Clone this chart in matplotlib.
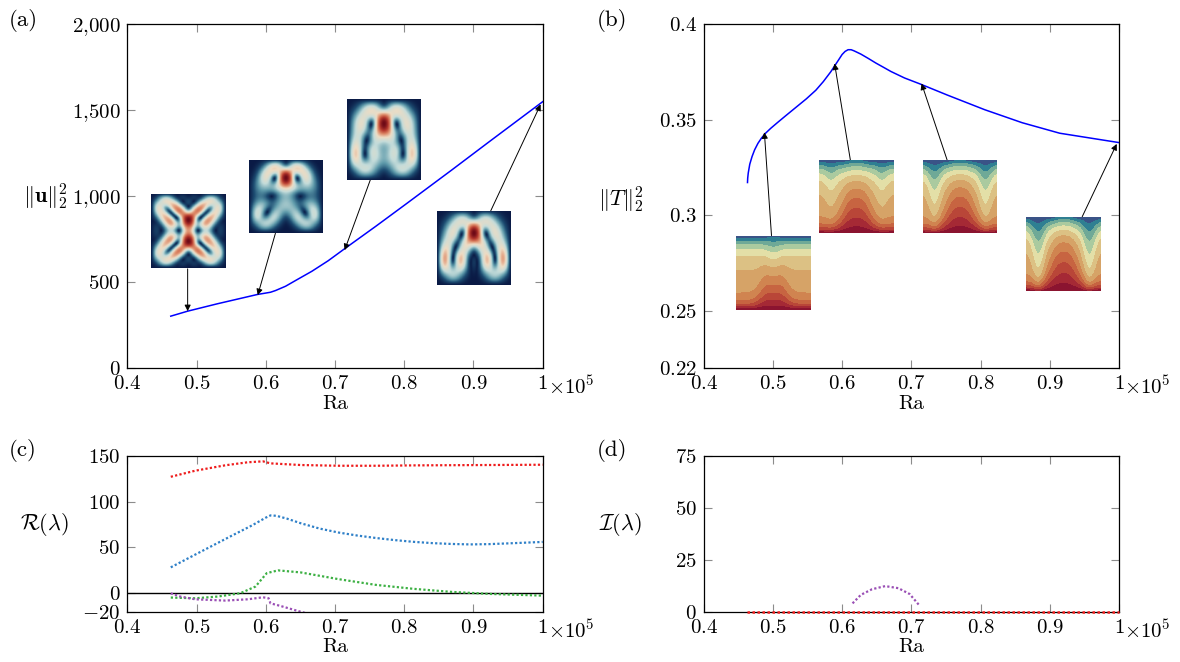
import numpy as np
import matplotlib
matplotlib.use('Agg')
import matplotlib.pyplot as plt
from matplotlib.colors import LinearSegmentedColormap

plt.rcParams['font.family'] = 'serif'
plt.rcParams['font.serif'] = ['cmr10']
plt.rcParams['mathtext.fontset'] = 'cm'
plt.rcParams['font.size'] = 15

# (a) velocity norm vs Ra
ra_u = np.array([46260, 48700, 53000, 58770, 60670, 61400, 62850, 64500, 66650, 69000, 71550,
                 75900, 80250, 86800, 92200, 100000])
u_norm = np.array([303, 332, 375, 429, 442, 452, 477, 515, 564, 625, 700,
                   826, 955, 1151, 1315, 1550])

# (b) temperature norm vs Ra
ra_t = np.array([46290, 46320, 46400, 46620, 46950, 47320, 47800, 48300, 48900, 49660, 50700,
                 51830, 53450, 54800, 56170, 57250, 58340, 59430, 59970, 60400, 60830, 61270,
                 61700, 62680, 63770, 64860, 66000, 67030, 69000, 71370, 75160, 80590, 86000,
                 91430, 100000])
t_norm = np.array([0.3172, 0.3195, 0.3222, 0.3268, 0.3308, 0.3343, 0.3377, 0.3404, 0.3430, 0.3456,
                   0.3488, 0.3522, 0.3570, 0.3610, 0.3655, 0.3700, 0.3752, 0.3812, 0.3842, 0.3858,
                   0.3867, 0.3867, 0.3861, 0.3844, 0.3821, 0.3797, 0.3774, 0.3753, 0.3719, 0.3686,
                   0.3630, 0.3553, 0.3485, 0.3430, 0.3381])

# (c) real part of eigenvalues
ra_red = np.array([46260, 49790, 54140, 57400, 59580, 60670, 65020, 70460, 75900, 81340, 92200, 100000])
re_red = np.array([127, 133.6, 139.5, 142.8, 143.8, 141.6, 139.8, 139, 139, 139.4, 139.8, 140.1])
ra_blue = np.array([46260, 50000, 55000, 58000, 60000, 60670, 61500, 63000, 65020, 67740, 70460,
                    73180, 76000, 78620, 81340, 84060, 86800, 89500, 92200, 94940, 97500, 100000])
re_blue = np.array([28.3, 43, 62.5, 74, 82.5, 84.9, 84.5, 81.5, 76.4, 70.6, 66.3, 63.0, 60.2, 58.0,
                    56.1, 54.7, 53.8, 53.3, 53.6, 54.4, 55.2, 56])
ra_green = np.array([46260, 49790, 53050, 56310, 58500, 60130, 61760, 65020, 70460, 75900, 81340,
                     86780, 92220, 100000])
re_green = np.array([-4.6, -5.4, -3.5, 0.1, 7.4, 22, 25, 22.8, 15.5, 9.2, 4.9, 1.6, -0.6, -2.5])
ra_purple = np.array([46260, 47620, 49790, 54140, 57400, 59580, 60400, 60670, 62000, 65000, 70000])
re_purple = np.array([0, -3.5, -6.5, -7.9, -6.5, -4.3, -5.4, -10.9, -13.5, -20, -30])

# (d) imaginary part of eigenvalues
ra_im0 = np.array([46260, 100000])
im0 = np.array([0, 0])
ra_im = np.array([61480, 62680, 64300, 66200, 68100, 69730, 71090])
im_purple = np.array([4.0, 8.1, 10.8, 12.3, 11.3, 8.5, 3.2])

c_red = '#ee1c1c'
c_blue = '#2f80c8'
c_green = '#3cb043'
c_purple = '#9a4fb5'

vel_cmap = LinearSegmentedColormap.from_list('vel', ['#0a1a45', '#1d4d72', '#5f9bab', '#c4dcda',
                                                     '#eedcc4', '#dd8a68', '#b73a2e', '#6e0a17'])
temp_cmap = LinearSegmentedColormap.from_list('temp', ['#3f3f82', '#2f7f92', '#8fbf9a', '#e3e0a8',
                                                       '#d9b272', '#d08550', '#c2553a', '#a62a35',
                                                       '#7e0a2e'])


def speed_field(coefs, n=120):
    s = np.linspace(0, 1, n)
    X, Y = np.meshgrid(s, s)
    psi = np.zeros_like(X)
    for m, k, c in coefs:
        psi += c * np.sin(np.pi * X) * np.sin(m * np.pi * X) * np.sin(np.pi * Y) * np.sin(k * np.pi * Y)
    dpy, dpx = np.gradient(psi, s, s)
    sp = np.hypot(dpx, dpy)
    return sp / sp.max()


def temp_field(dc, dh, side_w, n=150):
    s = np.linspace(0, 1, n)
    X, Y = np.meshgrid(s, s)
    g_c = np.exp(-((X - 0.5) / 0.1) ** 2)
    g_h = np.exp(-((X - 0.5) / 0.16) ** 2)
    side = np.exp(-((X - 0.16) / 0.09) ** 2) + np.exp(-((X - 0.84) / 0.09) ** 2)
    d_cold = 0.2 + dc * g_c + side_w * side
    d_hot = 0.1 + dh * g_h
    T = 0.55 + 0.45 * np.exp(-Y / d_hot) - 0.55 * np.exp(-(1 - Y) / d_cold)
    return X, Y, np.clip(T, 0, 1)


def style(ax, xlim, ylim, yticks, ylabels):
    ax.set_xlim(*xlim)
    ax.set_ylim(*ylim)
    ax.set_xticks([0.4, 0.5, 0.6, 0.7, 0.8, 0.9, 1.0])
    ax.set_xticklabels(['$0.4$', '$0.5$', '$0.6$', '$0.7$', '$0.8$', '$0.9$', '$1$'])
    ax.set_yticks(yticks)
    ax.set_yticklabels(ylabels)
    ax.tick_params(direction='in', top=True, right=True, length=6, width=0.8,
                   color='#8c8c8c', labelsize=15, pad=5)
    for sp in ax.spines.values():
        sp.set_linewidth(0.9)
    ax.annotate(r'$\times10^5$', xy=(1.0, 0), xycoords=('data', 'axes fraction'),
                xytext=(3.5, -5), textcoords='offset points', ha='left', va='top', fontsize=15)
    ax.set_xlabel('Ra', fontsize=15, labelpad=1)


def arrow(ax, tail, head):
    ax.annotate('', xy=head, xytext=tail,
                arrowprops=dict(arrowstyle='-|>', color='k', lw=0.7, mutation_scale=9,
                                shrinkA=0, shrinkB=0))


fig = plt.figure(figsize=(11.8, 6.62), dpi=100)

ax_a = fig.add_axes([0.108, 0.4437, 0.3519, 0.5196])
ax_b = fig.add_axes([0.5966, 0.4437, 0.3517, 0.5196])
ax_c = fig.add_axes([0.108, 0.076, 0.3519, 0.2357])
ax_d = fig.add_axes([0.5966, 0.076, 0.3517, 0.2357])

# (a)
ax_a.plot(ra_u / 1e5, u_norm, color='#0000ff', lw=1.1)
style(ax_a, (0.4, 1.0), (0, 2000), [0, 500, 1000, 1500, 2000],
      ['$0$', '$500$', '$1{,}000$', '$1{,}500$', '$2{,}000$'])
ax_a.set_ylabel(r'$\|\mathbf{u}\|_2^2$', rotation=0, fontsize=16)
ax_a.yaxis.set_label_coords(-0.199, 0.454)

insets_a = [([0.4337, 581.6, 0.1077, 432.9], [(2, 1, 1), (2, 3, 0.8), (4, 3, 0.55), (4, 5, 0.25)]),
            ([0.5763, 784.5, 0.1066, 427.1], [(2, 1, 1), (2, 3, 0.55), (4, 2, 0.35), (4, 4, 0.15)]),
            ([0.7166, 1094.9, 0.1064, 470.3], [(2, 1, 1), (2, 3, 0.35), (4, 2, 0.2), (4, 1, 0.1)]),
            ([0.8466, 483.0, 0.1067, 433.0], [(2, 1, 1), (4, 2, 0.35), (2, 3, 0.25), (4, 1, 0.2)])]
for bounds, coefs in insets_a:
    ia = ax_a.inset_axes(bounds, transform=ax_a.transData)
    ia.imshow(speed_field(coefs), cmap=vel_cmap, origin='lower', extent=[0, 1, 0, 1],
              aspect='auto', interpolation='bilinear')
    ia.axis('off')

arrow(ax_a, (0.487, 578), (0.487, 332))
arrow(ax_a, (0.6138, 784.5), (0.5883, 425))
arrow(ax_a, (0.7509, 1094.9), (0.7138, 687))
arrow(ax_a, (0.925, 916), (0.997, 1534))

# (b)
ax_b.plot(ra_t / 1e5, t_norm, color='#0000ff', lw=1.1)
style(ax_b, (0.4, 1.0), (0.22, 0.4), [0.22, 0.25, 0.3, 0.35, 0.4],
      ['$0.22$', '$0.25$', '$0.3$', '$0.35$', '$0.4$'])
ax_b.set_ylabel(r'$\|T\|_2^2$', rotation=0, fontsize=16)
ax_b.yaxis.set_label_coords(-0.2, 0.4465)

insets_b = [([0.4467, 0.2504, 0.1079, 0.0390], (0.15, 0.30, 0.00)),
            ([0.5666, 0.2906, 0.1079, 0.0384], (0.06, 0.45, 0.10)),
            ([0.7163, 0.2906, 0.1079, 0.0384], (0.04, 0.45, 0.25)),
            ([0.8660, 0.2603, 0.1085, 0.0390], (0.03, 0.50, 0.35))]
for bounds, (dc, dh, sw) in insets_b:
    ib = ax_b.inset_axes(bounds, transform=ax_b.transData)
    X, Y, T = temp_field(dc, dh, sw)
    ib.contourf(X, Y, T, levels=np.linspace(0, 1, 13), cmap=temp_cmap)
    ib.set_xlim(0, 1)
    ib.set_ylim(0, 1)
    ib.axis('off')

arrow(ax_b, (0.4976, 0.2894), (0.4873, 0.3435))
arrow(ax_b, (0.6116, 0.3290), (0.5888, 0.3795))
arrow(ax_b, (0.7515, 0.3290), (0.7146, 0.3690))
arrow(ax_b, (0.9468, 0.2993), (0.9967, 0.3374))

# (c)
dot = (0, (1, 1))
ax_c.axhline(0, color='k', lw=1.0)
ax_c.plot(ra_red / 1e5, re_red, color=c_red, lw=1.6, ls=dot)
ax_c.plot(ra_blue / 1e5, re_blue, color=c_blue, lw=1.6, ls=dot)
ax_c.plot(ra_green / 1e5, re_green, color=c_green, lw=1.6, ls=dot)
ax_c.plot(ra_purple / 1e5, re_purple, color=c_purple, lw=1.6, ls=dot)
style(ax_c, (0.4, 1.0), (-20, 150), [-20, 0, 50, 100, 150],
      ['$-20$', '$0$', '$50$', '$100$', '$150$'])
ax_c.set_ylabel(r'$\mathcal{R}(\lambda)$', rotation=0, fontsize=16)
ax_c.yaxis.set_label_coords(-0.201, 0.472)

# (d)
ax_d.plot(ra_im / 1e5, im_purple, color=c_purple, lw=1.6, ls=dot)
ax_d.plot(ra_im0 / 1e5, im0, color=c_red, lw=1.8, ls=dot, clip_on=False, zorder=3)
style(ax_d, (0.4, 1.0), (0, 75), [0, 25, 50, 75], ['$0$', '$25$', '$50$', '$75$'])
ax_d.set_ylabel(r'$\mathcal{I}(\lambda)$', rotation=0, fontsize=16)
ax_d.yaxis.set_label_coords(-0.202, 0.472)

fig.text(0.007, 1 - 21 / 662, '(a)', va='center', fontsize=16.5)
fig.text(0.506, 1 - 21 / 662, '(b)', va='center', fontsize=16.5)
fig.text(0.007, 1 - 450 / 662, '(c)', va='center', fontsize=16.5)
fig.text(0.506, 1 - 450 / 662, '(d)', va='center', fontsize=16.5)

fig.savefig('out.png', dpi=100)
